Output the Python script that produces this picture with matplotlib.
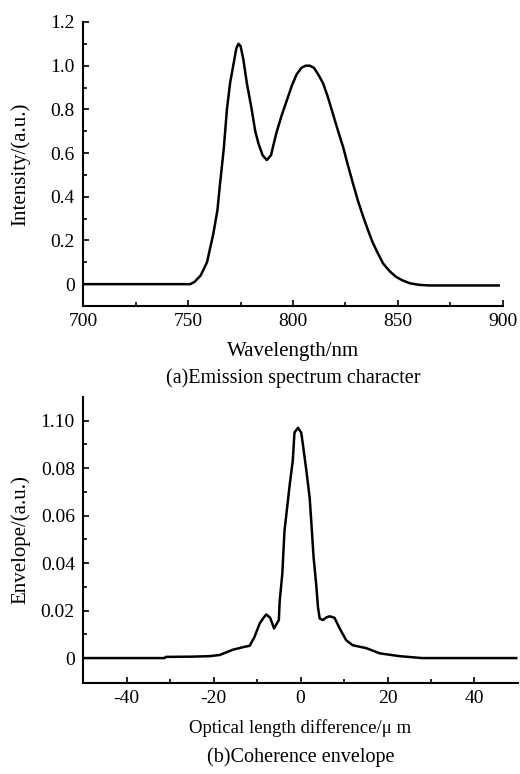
import matplotlib
matplotlib.use("Agg")
import matplotlib.pyplot as plt
from matplotlib.ticker import MultipleLocator, FixedLocator

plt.rcParams['font.family'] = ['Liberation Serif', 'DejaVu Serif']
plt.rcParams['axes.unicode_minus'] = False

# (a) Emission spectrum
wl = [700, 751, 753, 756, 759, 762, 764, 765, 767, 768.5, 770, 771.5, 773, 774, 775, 776.3,
      778, 780.3, 782, 783.5, 785.5, 787.5, 789.5, 792, 794.5, 797, 799.5, 801.7, 804, 806,
      808, 810, 812, 814.3, 816.5, 819, 821.5, 823.8, 826, 828.6, 831, 833.4, 836, 838,
      840.5, 842.9, 846, 849, 852, 855.7, 860, 865, 898]
inten = [0, 0, 0.01, 0.04, 0.1, 0.23, 0.34, 0.44, 0.62, 0.80, 0.92, 1.00, 1.08, 1.10, 1.09, 1.03,
         0.92, 0.80, 0.70, 0.645, 0.59, 0.568, 0.59, 0.69, 0.77, 0.84, 0.91, 0.96, 0.99, 1.0,
         1.0, 0.99, 0.96, 0.92, 0.86, 0.78, 0.70, 0.63, 0.55, 0.46, 0.38, 0.31, 0.24, 0.19,
         0.14, 0.095, 0.06, 0.034, 0.018, 0.004, -0.003, -0.006, -0.006]

# (b) Coherence envelope
opd = [-50, -31.3, -31, -25, -21, -18.6, -15.6, -13, -11.7, -10.6, -9.4, -8.5, -7.9, -7.0,
       -6.1, -5.0, -4.8, -4.2, -3.7, -2.5, -1.8, -1.4, -0.6, 0.15, 0.5, 1.3, 2.1, 2.5, 3.0,
       3.6, 4.0, 4.4, 5.1, 6.0, 6.7, 7.8, 9.0, 10.5, 12, 15.1, 18.2, 22.8, 28, 49.6]
env = [0, 0, 0.0005, 0.0006, 0.0008, 0.0013, 0.0035, 0.0047, 0.0052, 0.0089, 0.0146, 0.017,
       0.0184, 0.017, 0.0125, 0.016, 0.024, 0.0355, 0.0535, 0.073, 0.083, 0.095, 0.097, 0.095,
       0.0905, 0.0795, 0.0675, 0.0565, 0.0424, 0.031, 0.0215, 0.0167, 0.016, 0.0172, 0.0176,
       0.017, 0.0125, 0.0075, 0.0054, 0.0042, 0.002, 0.0008, 0.0, 0.0]

top_yticks = [0, 0.2, 0.4, 0.6, 0.8, 1.0, 1.2]
top_ylabels = ["0", "0.2", "0.4", "0.6", "0.8", "1.0", "1.2"]
top_xticks = [700, 750, 800, 850, 900]
bot_yticks = [0, 0.02, 0.04, 0.06, 0.08, 0.10]
bot_ylabels = ["0", "0.02", "0.04", "0.06", "0.08", "1.10"]
bot_xticks = [-40, -20, 0, 20, 40]

fig = plt.figure(figsize=(5.2, 7.74), dpi=100)
ax1 = fig.add_axes([0.16, 1 - 306/774, 0.807, (306 - 22)/774])
ax2 = fig.add_axes([0.16, 1 - 683/774, 0.836, (683 - 397)/774])

fs_tick = 14
fs_lab = 15
fs_cap = 14.5
for ax in (ax1, ax2):
    for s in ('top', 'right'):
        ax.spines[s].set_visible(False)
    for s in ('left', 'bottom'):
        ax.spines[s].set_linewidth(1.5)
    ax.tick_params(which='both', direction='in', labelsize=fs_tick, width=1.2)
    ax.tick_params(which='major', length=4)
    ax.tick_params(which='minor', length=3)
    ax.tick_params(axis='x', pad=5)
    ax.tick_params(axis='y', pad=6)

ax1.plot(wl, inten, color='black', lw=1.8)
ax1.set_xlim(700, 900)
ax1.set_ylim(-0.1, 1.2)
ax1.set_xticks(top_xticks)
ax1.xaxis.set_minor_locator(MultipleLocator(25))
ax1.set_yticks(top_yticks)
ax1.set_yticklabels(top_ylabels)
ax1.yaxis.set_minor_locator(FixedLocator([0.1, 0.3, 0.5, 0.7, 0.9, 1.1]))
ax1.set_xlabel("Wavelength/nm", fontsize=fs_lab, labelpad=9)
ax1.set_ylabel("Intensity/(a.u.)", fontsize=fs_lab)
fig.text((83 + 503) / 2 / 520, 1 - 378/774, "(a)Emission spectrum character",
         fontsize=fs_cap, ha='center', va='center')

ax2.plot(opd, env, color='black', lw=1.8)
ax2.set_xlim(-50, 50)
ax2.set_ylim(-0.0105, 0.11)
ax2.set_xticks(bot_xticks)
ax2.xaxis.set_minor_locator(FixedLocator([-30, -10, 10, 30]))
ax2.set_yticks(bot_yticks)
ax2.set_yticklabels(bot_ylabels)
ax2.yaxis.set_minor_locator(FixedLocator([0.01, 0.03, 0.05, 0.07, 0.09]))
ax2.set_xlabel("Optical length difference/\u03bc m", fontsize=13.5, labelpad=9)
ax2.set_ylabel("Envelope/(a.u.)", fontsize=fs_lab)
fig.text((83 + 518) / 2 / 520, 1 - 757/774, "(b)Coherence envelope",
         fontsize=fs_cap, ha='center', va='center')

# y-label centres at ~20 px from the left edge of the figure
for ax, w in ((ax1, 420), (ax2, 435)):
    ax.yaxis.set_label_coords(-(83 - 20) / w, 0.5)
    ax.yaxis.label.set_va('center')

fig.savefig("out.png", dpi=100)
